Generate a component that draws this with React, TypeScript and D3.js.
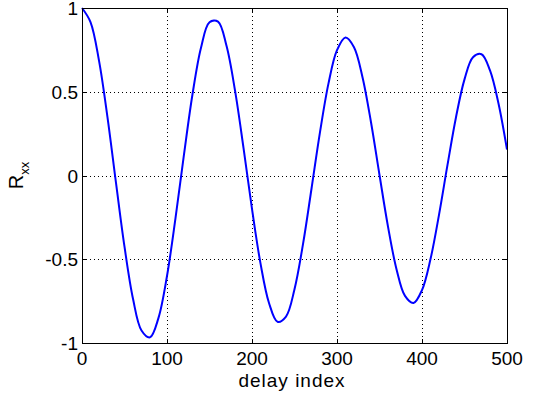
import React, { useEffect, useRef } from 'react';
import * as d3 from 'd3';

// delay index sampled every 10
const delays = d3.range(0, 501, 10);
const rxx = [
  1.0, 0.916, 0.686, 0.347, -0.044, -0.425, -0.736, -0.925, -0.966, -0.85,
  -0.6, -0.255, 0.126, 0.485, 0.763, 0.915, 0.919, 0.774, 0.508, 0.165,
  -0.199, -0.525, -0.761, -0.873, -0.842, -0.679, -0.41, -0.079, 0.259, 0.55,
  0.748, 0.824, 0.766, 0.587, 0.318, 0.003, -0.305, -0.559, -0.719, -0.761,
  -0.684, -0.499, -0.235, 0.063, 0.348, 0.574, 0.706, 0.724, 0.627, 0.43,
  0.155,
];
const xTicks = [0, 100, 200, 300, 400, 500];
const yTicks = [-1, -0.5, 0, 0.5, 1];

const W = 560, H = 396;
const left = 82, right = 507, top = 8, bottom = 343;

export default function App() {
  const ref = useRef<SVGSVGElement>(null);

  useEffect(() => {
    const svg = d3.select(ref.current);
    svg.selectAll('*').remove();

    const x = d3.scaleLinear().domain([0, 500]).range([left, right]);
    const y = d3.scaleLinear().domain([-1, 1]).range([bottom, top]);

    svg.append('rect').attr('width', W).attr('height', H).attr('fill', 'white');

    // grid
    const grid = svg.append('g')
      .attr('stroke', 'black')
      .attr('stroke-width', 1)
      .attr('stroke-dasharray', '1,3');
    grid.selectAll('line.gx')
      .data(xTicks.slice(1, -1))
      .join('line')
      .attr('x1', d => Math.round(x(d)) + 0.5).attr('x2', d => Math.round(x(d)) + 0.5)
      .attr('y1', top).attr('y2', bottom);
    grid.selectAll('line.gy')
      .data(yTicks.slice(1, -1))
      .join('line')
      .attr('class', 'gy')
      .attr('y1', d => Math.round(y(d)) + 0.5).attr('y2', d => Math.round(y(d)) + 0.5)
      .attr('x1', left).attr('x2', right);

    // curve
    const line = d3.line<number>()
      .x((d, i) => x(delays[i]))
      .y(d => y(d))
      .curve(d3.curveCatmullRom);
    svg.append('path')
      .datum(rxx)
      .attr('d', line)
      .attr('fill', 'none')
      .attr('stroke', '#0000ff')
      .attr('stroke-width', 2);

    // box + inward ticks
    const frame = svg.append('g').attr('stroke', 'black').attr('stroke-width', 1);
    frame.append('rect')
      .attr('x', left + 0.5).attr('y', top + 0.5)
      .attr('width', right - left).attr('height', bottom - top)
      .attr('fill', 'none');
    const tl = 4;
    xTicks.forEach(t => {
      const px = Math.round(x(t)) + 0.5;
      frame.append('line').attr('x1', px).attr('x2', px).attr('y1', bottom).attr('y2', bottom - tl);
      frame.append('line').attr('x1', px).attr('x2', px).attr('y1', top).attr('y2', top + tl);
    });
    yTicks.forEach(t => {
      const py = Math.round(y(t)) + 0.5;
      frame.append('line').attr('y1', py).attr('y2', py).attr('x1', left).attr('x2', left + tl);
      frame.append('line').attr('y1', py).attr('y2', py).attr('x1', right).attr('x2', right - tl);
    });

    const font = 'Liberation Sans, Arial, sans-serif';
    svg.append('g')
      .attr('font-family', font).attr('font-size', 19).attr('text-anchor', 'middle')
      .selectAll('text')
      .data(xTicks)
      .join('text')
      .attr('x', d => x(d))
      .attr('y', 365)
      .text(d => d);
    svg.append('g')
      .attr('font-family', font).attr('font-size', 19).attr('text-anchor', 'end')
      .selectAll('text')
      .data(yTicks)
      .join('text')
      .attr('x', left - 4)
      .attr('y', d => y(d) + 7)
      .text(d => d);

    svg.append('text')
      .attr('font-family', font).attr('font-size', 19)
      .attr('letter-spacing', 1)
      .attr('text-anchor', 'middle')
      .attr('x', 292).attr('y', 387)
      .text('delay index');

    const yl = svg.append('text')
      .attr('font-family', font).attr('font-size', 20)
      .attr('text-anchor', 'middle')
      .attr('transform', `translate(23,${y(0)}) rotate(-90)`);
    yl.append('tspan').text('R');
    yl.append('tspan').attr('font-size', 13).attr('dy', 6).text('xx');
  }, []);

  return (
    <svg ref={ref} width={W} height={H}
      style={{ position: 'absolute', left: 0, top: 0, display: 'block' }} />
  );
}
